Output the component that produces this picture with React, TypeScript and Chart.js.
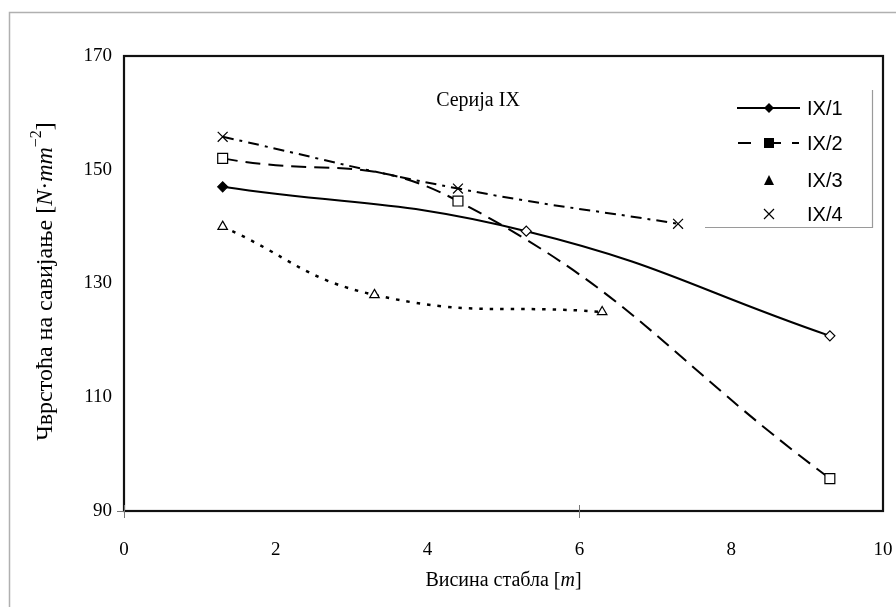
import React, { useEffect, useRef } from 'react';
import { Chart, registerables } from 'chart.js';

Chart.register(...registerables);

// ---- data ----
const seriesNames = ['IX/1', 'IX/2', 'IX/3', 'IX/4'];
const heights1 = [1.3, 5.3, 9.3];
const strength1 = [147, 139.2, 120.8];
const heights2 = [1.3, 4.4, 9.3];
const strength2 = [152, 144.5, 95.7];
const heights3 = [1.3, 3.3, 6.3];
const strength3 = [140, 128, 125];
const heights4 = [1.3, 4.4, 7.3];
const strength4 = [155.8, 146.7, 140.5];
const xTickValues = [0, 2, 4, 6, 8, 10];
const yTickValues = [90, 110, 130, 150, 170];
const chartTitle = 'Серија IX';
const xTitleParts = ['Висина стабла [', 'm', ']'];
const yTitleParts = ['Чврстоћа на савијање [', 'N', '·', 'mm', '−2', ']'];

const SERIF = '"Liberation Serif", "Times New Roman", serif';
const SANS = '"Liberation Sans", Arial, sans-serif';

const toXY = (xs: number[], ys: number[]) => xs.map((x, i) => ({ x, y: ys[i] }));

const overlayPlugin = {
  id: 'overlay',
  afterDraw(chart: any) {
    const { ctx, chartArea } = chart;
    const { left, right, top, bottom } = chartArea;
    const xs = chart.scales.x;
    const ys = chart.scales.y;
    ctx.save();
    // outer frame
    ctx.strokeStyle = '#b0b0b0';
    ctx.lineWidth = 1.5;
    ctx.strokeRect(9.5, 12.5, 1000, 1000);
    // plot border
    ctx.strokeStyle = '#111';
    ctx.lineWidth = 2.2;
    ctx.strokeRect(left, top, right - left, bottom - top);
    // tick marks
    ctx.strokeStyle = '#777';
    ctx.lineWidth = 1;
    [0, 6].forEach((v) => {
      const px = Math.round(xs.getPixelForValue(v)) + 0.5;
      ctx.beginPath();
      ctx.moveTo(px, bottom - 6);
      ctx.lineTo(px, bottom + 7);
      ctx.stroke();
    });
    const py90 = Math.round(ys.getPixelForValue(90)) + 0.5;
    ctx.beginPath();
    ctx.moveTo(left - 7, py90);
    ctx.lineTo(left, py90);
    ctx.stroke();

    ctx.fillStyle = '#000';
    // title
    ctx.font = `20px ${SERIF}`;
    ctx.textAlign = 'center';
    ctx.textBaseline = 'middle';
    ctx.fillText(chartTitle, 478, 101);

    const drawParts = (parts: { t: string; f: string; dy?: number }[], cx: number, cy: number) => {
      let total = 0;
      parts.forEach((p) => {
        ctx.font = p.f;
        total += ctx.measureText(p.t).width;
      });
      let x = cx - total / 2;
      ctx.textAlign = 'left';
      ctx.textBaseline = 'middle';
      parts.forEach((p) => {
        ctx.font = p.f;
        ctx.fillText(p.t, x, cy + (p.dy || 0));
        x += ctx.measureText(p.t).width;
      });
    };
    drawParts(
      [
        { t: xTitleParts[0], f: `20px ${SERIF}` },
        { t: xTitleParts[1], f: `italic 20px ${SERIF}` },
        { t: xTitleParts[2], f: `20px ${SERIF}` },
      ],
      (left + right) / 2,
      581
    );
    // y title rotated
    ctx.save();
    ctx.translate(46, (top + bottom) / 2 - 2);
    ctx.rotate(-Math.PI / 2);
    const yn = `24px ${SERIF}`;
    const yi = `italic 24px ${SERIF}`;
    drawParts(
      [
        { t: yTitleParts[0], f: yn },
        { t: yTitleParts[1], f: yi },
        { t: yTitleParts[2], f: yn },
        { t: yTitleParts[3], f: yi },
        { t: yTitleParts[4], f: `16px ${SERIF}`, dy: -9 },
        { t: yTitleParts[5], f: yn },
      ],
      0,
      0
    );
    ctx.restore();

    // legend
    ctx.strokeStyle = '#9a9a9a';
    ctx.lineWidth = 1.2;
    ctx.beginPath();
    ctx.moveTo(705, 227.5);
    ctx.lineTo(872.5, 227.5);
    ctx.lineTo(872.5, 90);
    ctx.stroke();
    const rows = [108, 143, 180, 214];
    const mx = 769;
    ctx.font = `20px ${SANS}`;
    ctx.textAlign = 'left';
    ctx.textBaseline = 'middle';
    rows.forEach((ry, i) => {
      ctx.strokeStyle = '#000';
      ctx.fillStyle = '#000';
      ctx.lineWidth = 2;
      if (i === 0) {
        ctx.beginPath();
        ctx.moveTo(737, ry);
        ctx.lineTo(800, ry);
        ctx.stroke();
        ctx.beginPath();
        ctx.moveTo(mx, ry - 5);
        ctx.lineTo(mx + 5, ry);
        ctx.lineTo(mx, ry + 5);
        ctx.lineTo(mx - 5, ry);
        ctx.closePath();
        ctx.fill();
      } else if (i === 1) {
        ctx.beginPath();
        ctx.moveTo(738, ry);
        ctx.lineTo(751, ry);
        ctx.moveTo(769, ry);
        ctx.lineTo(781, ry);
        ctx.moveTo(792, ry);
        ctx.lineTo(799, ry);
        ctx.stroke();
        ctx.fillRect(mx - 5, ry - 5, 10, 10);
      } else if (i === 2) {
        ctx.beginPath();
        ctx.moveTo(mx, ry - 5);
        ctx.lineTo(mx + 5, ry + 5);
        ctx.lineTo(mx - 5, ry + 5);
        ctx.closePath();
        ctx.fill();
      } else {
        ctx.lineWidth = 1.2;
        ctx.beginPath();
        ctx.moveTo(mx - 5, ry - 5);
        ctx.lineTo(mx + 5, ry + 5);
        ctx.moveTo(mx + 5, ry - 5);
        ctx.lineTo(mx - 5, ry + 5);
        ctx.stroke();
      }
      ctx.fillStyle = '#000';
      ctx.fillText(seriesNames[i], 807, ry + 1);
    });
    ctx.restore();
  },
};

export default function App() {
  const ref = useRef<HTMLCanvasElement | null>(null);
  useEffect(() => {
    if (!ref.current) return;
    const common = {
      showLine: true,
      borderColor: '#000',
      pointBorderColor: '#000',
      pointBorderWidth: 1.2,
      tension: 0.45,
      fill: false,
    };
    const chart = new Chart(ref.current, {
      type: 'scatter',
      data: {
        datasets: [
          {
            ...common,
            label: seriesNames[0],
            data: toXY(heights1, strength1),
            borderWidth: 2,
            pointStyle: 'rectRot',
            pointRadius: 5,
            pointBackgroundColor: ['#000', '#fff', '#fff'],
          },
          {
            ...common,
            label: seriesNames[1],
            data: toXY(heights2, strength2),
            borderWidth: 2,
            borderDash: [15, 8],
            pointStyle: 'rect',
            pointRadius: 7,
            pointBackgroundColor: '#fff',
          },
          {
            ...common,
            label: seriesNames[2],
            data: toXY(heights3, strength3),
            borderWidth: 2.5,
            borderDash: [3.5, 7],
            pointStyle: 'triangle',
            pointRadius: 5.5,
            pointBackgroundColor: '#fff',
          },
          {
            ...common,
            label: seriesNames[3],
            data: toXY(heights4, strength4),
            borderWidth: 2,
            borderDash: [11, 6, 3, 6],
            pointStyle: 'crossRot',
            pointRadius: 7,
            pointBackgroundColor: '#fff',
          },
        ],
      },
      options: {
        animation: false,
        responsive: false,
        maintainAspectRatio: false,
        layout: { padding: { left: 0, right: 13, top: 56, bottom: 0 } },
        plugins: {
          legend: { display: false },
          tooltip: { enabled: false },
          title: { display: false },
        },
        scales: {
          x: {
            type: 'linear',
            min: 0,
            max: 10,
            afterFit: (s: any) => {
              s.height = 96;
              s.paddingLeft = 0;
              s.paddingRight = 0;
            },
            afterBuildTicks: (s: any) => {
              s.ticks = xTickValues.map((v) => ({ value: v }));
            },
            grid: { display: false, drawTicks: false },
            border: { display: false },
            ticks: {
              padding: 28,
              color: '#000',
              font: { family: SERIF, size: 19 },
              maxRotation: 0,
            },
          },
          y: {
            type: 'linear',
            min: 90,
            max: 170,
            afterFit: (s: any) => {
              s.width = 124;
              s.paddingTop = 0;
              s.paddingBottom = 0;
            },
            afterBuildTicks: (s: any) => {
              s.ticks = yTickValues.map((v) => ({ value: v }));
            },
            grid: { display: false, drawTicks: false },
            border: { display: false },
            ticks: {
              padding: 12,
              color: '#000',
              font: { family: SERIF, size: 19 },
            },
          },
        },
      },
      plugins: [overlayPlugin],
    } as any);
    return () => chart.destroy();
  }, []);
  return (
    <div style={{ position: 'fixed', left: 0, top: 0, width: 896, height: 607, background: '#fff' }}>
      <canvas ref={ref} width={896} height={607} style={{ display: 'block' }} />
    </div>
  );
}
